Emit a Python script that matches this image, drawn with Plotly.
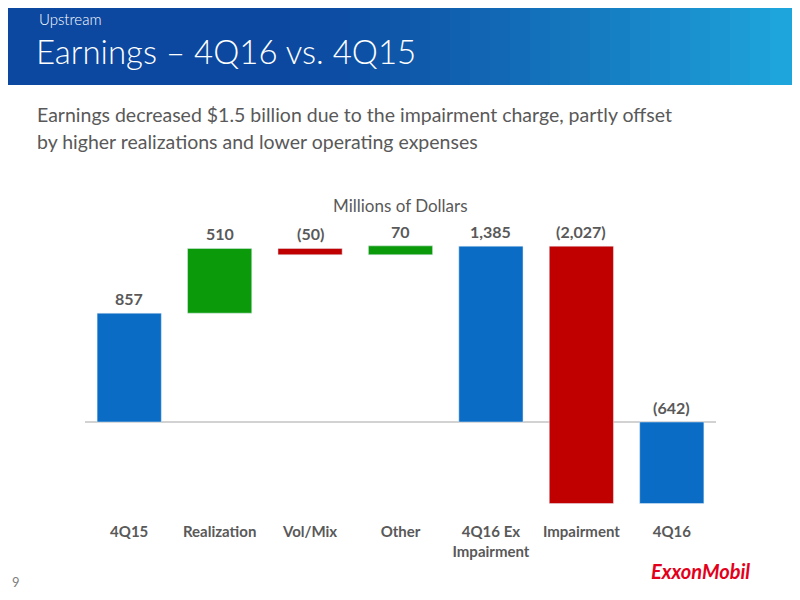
import plotly.graph_objects as go

categories = ["4Q15", "Realization", "Vol/Mix", "Other", "4Q16 Ex<br>Impairment", "Impairment", "4Q16"]
changes = [857, 510, -50, 70, 1385, -2027, -642]
labels = ["857", "510", "(50)", "70", "1,385", "(2,027)", "(642)"]
kinds = ["total", "delta", "delta", "delta", "total", "delta", "total"]

BLUE, GREEN, RED = "#0a6cc4", "#0a9a0a", "#c00000"
bases, heights, colors, tops = [], [], [], []
run = 0
for v, k in zip(changes, kinds):
    if k == "total":
        b, h = 0, v
        run = v
        c = BLUE
    else:
        b, h = run, v
        run += v
        c = GREEN if v > 0 else RED
    bases.append(b); heights.append(h); colors.append(c)
    tops.append(max(b, b + h))

OFF = 8
L, R, T, B = 84 - OFF, 717 - OFF, 230 - OFF, 510 - OFF
def xp(px): return (px - OFF - L) / (R - L)
def yp(py): return (B - (py - OFF)) / (B - T)

fig = go.Figure(go.Bar(x=list(range(7)), y=heights, base=bases, marker_color=colors,
                       width=0.71, hoverinfo="skip"))

ann = []
for i, (t, lab) in enumerate(zip(tops, labels)):
    ann.append(dict(x=i, y=t, text=f"<b>{lab}</b>", showarrow=False, yanchor="bottom", yshift=3,
                    font=dict(size=16, color="#595959")))

def txt(px, py, s, size, color, xanchor="left", weight=None):
    f = dict(size=size, color=color)
    if weight: f["weight"] = weight
    ann.append(dict(xref="paper", yref="paper", x=xp(px), y=yp(py), text=s, showarrow=False,
                    xanchor=xanchor, yanchor="middle", font=f))

shapes = []
n = 40
c0, c1 = (12, 72, 160), (30, 165, 220)
for i in range(n):
    f = i / (n - 1)
    g = max(0, (f - 0.35) / 0.65) ** 1.3
    col = tuple(int(c0[j] + (c1[j] - c0[j]) * g) for j in range(3))
    shapes.append(dict(type="rect", xref="paper", yref="paper", x0=xp(800 * i / n - 10), x1=xp(800 * (i + 1) / n + 12),
                       y0=yp(85), y1=yp(-10), fillcolor=f"rgb{col}", line_width=0, layer="below"))
shapes.append(dict(type="line", xref="paper", yref="y", x0=xp(85), x1=xp(716), y0=0, y1=0,
                   line=dict(color="#a6a6a6", width=1.2), layer="below"))

txt(37, 19, "Upstream", 15, "white", weight=300)
txt(34, 51, "Earnings – 4Q16 vs. 4Q15", 33, "white", weight=300)
txt(35, 115, "Earnings decreased $1.5 billion due to the impairment charge, partly offset", 19.5, "#595959")
txt(35, 141, "by higher realizations and lower operating expenses", 19.5, "#595959")
txt(400, 205, "Millions of Dollars", 17, "#595959", xanchor="center")
txt(10, 582, "9", 13, "#7f7f7f")
txt(752, 571, "<b><i>ExxonMobil</i></b>", 20, "#e3001b", xanchor="right")

fig.update_layout(
    width=800, height=600, margin=dict(l=L, r=800 - R, t=T, b=600 - B),
    paper_bgcolor="white", plot_bgcolor="rgba(0,0,0,0)",
    font=dict(family="Lato, Open Sans, sans-serif"),
    xaxis=dict(range=[-0.5, 6.5], tickvals=list(range(7)),
               ticktext=[f"<b>{c}</b>" for c in categories],
               tickfont=dict(size=15, color="#595959"), showgrid=False, zeroline=False,
               showline=False, ticks="", ticklabelstandoff=11),
    yaxis=dict(range=[-693, 1512], visible=False, showgrid=False, zeroline=False),
    showlegend=False, annotations=ann, shapes=shapes, bargap=0.3,
)
fig.write_html("out.html")
